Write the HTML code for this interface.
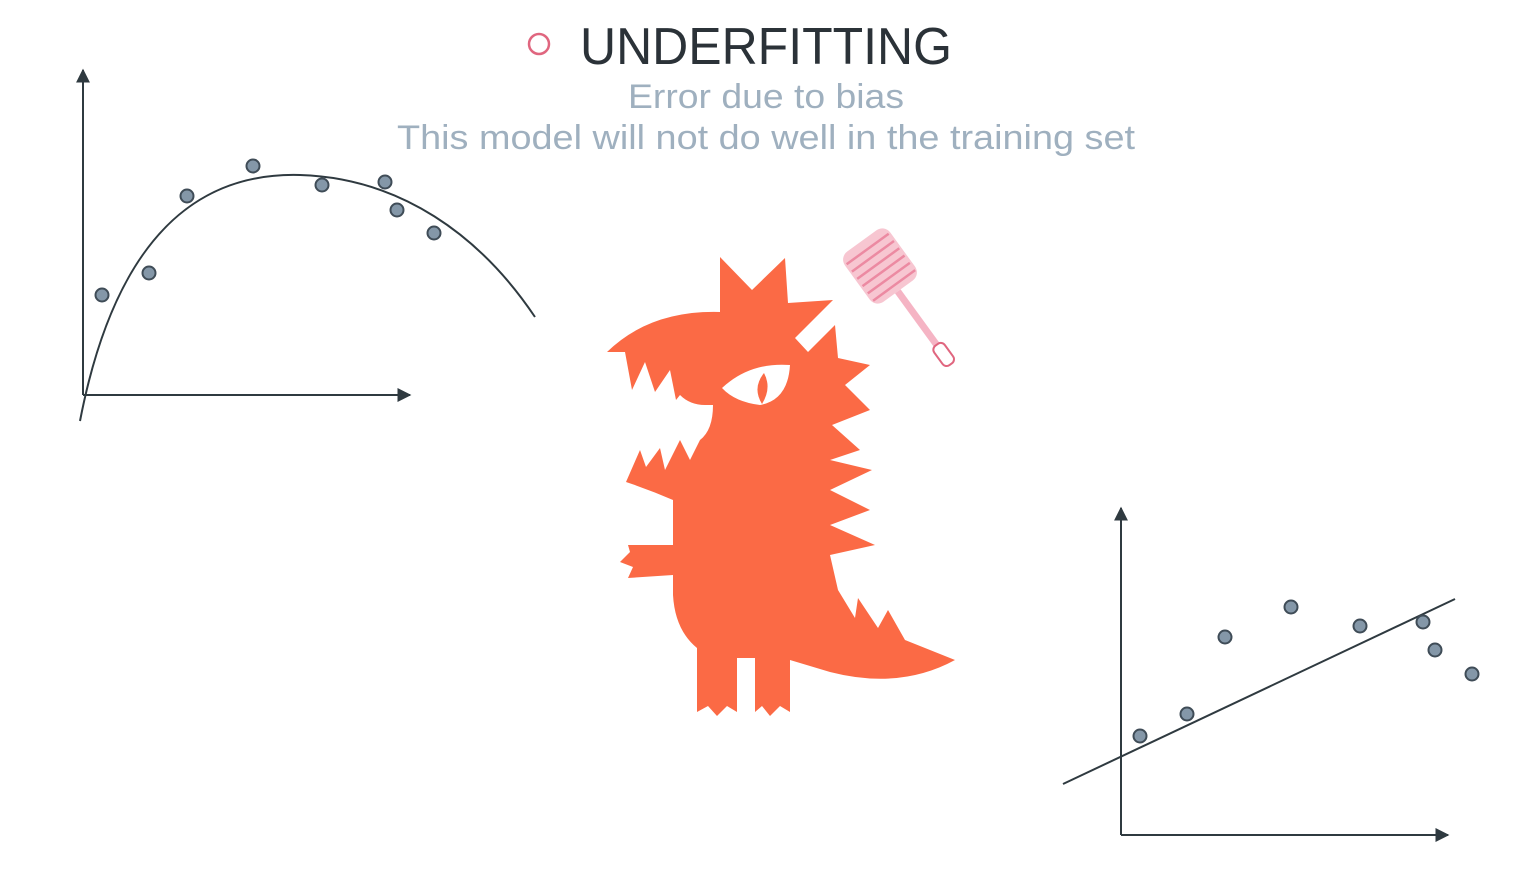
<!DOCTYPE html>
<html><head><meta charset="utf-8"><style>html,body{margin:0;padding:0;background:#fff;width:1540px;height:886px;overflow:hidden}</style></head>
<body>
<svg width="1540" height="886" viewBox="0 0 1540 886" xmlns="http://www.w3.org/2000/svg" font-family="Liberation Sans, sans-serif">
<defs>
<marker id="ar" viewBox="0 0 10 10" refX="9" refY="5" markerWidth="14" markerHeight="14" markerUnits="userSpaceOnUse" orient="auto"><path d="M0,0 L10,5 L0,10 z" fill="#2f3a40"/></marker>
</defs>
<circle cx="539" cy="44" r="10" fill="none" stroke="#e0667f" stroke-width="2.5"/>
<text x="580" y="64" font-size="52" fill="#2b3238" textLength="372" lengthAdjust="spacingAndGlyphs">UNDERFITTING</text>
<text x="628" y="108" font-size="34" fill="#9fb0bf" textLength="276" lengthAdjust="spacingAndGlyphs">Error due to bias</text>
<text x="397" y="149" font-size="34" fill="#9fb0bf" textLength="738" lengthAdjust="spacingAndGlyphs">This model will not do well in the training set</text>

<g stroke="#2f3a40" stroke-width="2" fill="none">
<line x1="83" y1="395" x2="83" y2="70" marker-end="url(#ar)"/>
<line x1="83" y1="395" x2="410" y2="395" marker-end="url(#ar)"/>
<path d="M80,421 C115,240 195,172 300,175 C400,178 480,235 535,317"/>
</g>
<g fill="#8497a8" stroke="#3f4c57" stroke-width="2">
<circle cx="102" cy="295" r="6.5"/><circle cx="149" cy="273" r="6.5"/><circle cx="187" cy="196" r="6.5"/><circle cx="253" cy="166" r="6.5"/><circle cx="322" cy="185" r="6.5"/><circle cx="385" cy="182" r="6.5"/><circle cx="397" cy="210" r="6.5"/><circle cx="434" cy="233" r="6.5"/>
</g>

<g stroke="#2f3a40" stroke-width="2" fill="none">
<line x1="1121" y1="835" x2="1121" y2="508" marker-end="url(#ar)"/>
<line x1="1121" y1="835" x2="1448" y2="835" marker-end="url(#ar)"/>
<line x1="1063" y1="784" x2="1455" y2="599"/>
</g>
<g fill="#8497a8" stroke="#3f4c57" stroke-width="2">
<circle cx="1140" cy="736" r="6.5"/><circle cx="1187" cy="714" r="6.5"/><circle cx="1225" cy="637" r="6.5"/><circle cx="1291" cy="607" r="6.5"/><circle cx="1360" cy="626" r="6.5"/><circle cx="1423" cy="622" r="6.5"/><circle cx="1435" cy="650" r="6.5"/><circle cx="1472" cy="674" r="6.5"/>
</g>

<path fill="#fb6a45" d="M720,257 L752,290 L785,258 L788,303 L833,300 L795,338 L808,352 L835,325 L838,358 L870,365 L845,385 L870,410 L832,425 L860,450 L830,460 L872,470 L830,490 L870,510 L830,525 L875,545 L830,555 L838,590 L855,618 L858,598 L878,628 L888,610 L905,640 L955,660 Q900,690 830,672 L790,660 L790,712 L780,706 L770,716 L762,706 L755,712 L755,658 L737,658 L737,712 L727,706 L717,716 L708,706 L697,712 L697,648 Q675,630 673,595 L673,575 L628,578 L633,567 L620,562 L630,552 L628,545 L673,545 L673,500 Q650,490 626,482 L640,450 L646,467 L660,448 L665,470 L680,440 L690,460 L700,440 Q713,430 713,405 L705,405 Q690,405 680,395 L676,400 L670,370 L655,392 L645,362 L632,390 L625,352 L607,352 Q650,310 720,312 Z"/>
<path fill="#fff" d="M722,388 Q750,362 790,365 Q788,400 760,405 Q735,402 722,388 Z"/>
<path fill="#fb6a45" d="M764,373 Q752,388 762,404 Q772,388 764,373 Z"/>

<g transform="translate(880 266) rotate(-36) translate(-886 -263)">
<rect x="858" y="232" width="56" height="62" rx="10" fill="#f7c6d1"/>
<g stroke="#ec8aa2" stroke-width="2.5">
<line x1="860" y1="242" x2="912" y2="242"/><line x1="860" y1="251" x2="912" y2="251"/><line x1="860" y1="260" x2="912" y2="260"/><line x1="860" y1="269" x2="912" y2="269"/><line x1="860" y1="278" x2="912" y2="278"/><line x1="860" y1="287" x2="912" y2="287"/>
</g>
<rect x="882" y="294" width="7" height="70" fill="#f5b4c4"/>
<rect x="879" y="360" width="13" height="24" rx="5" fill="#fff" stroke="#e0667f" stroke-width="2"/>
</g>
</svg>
</body></html>
